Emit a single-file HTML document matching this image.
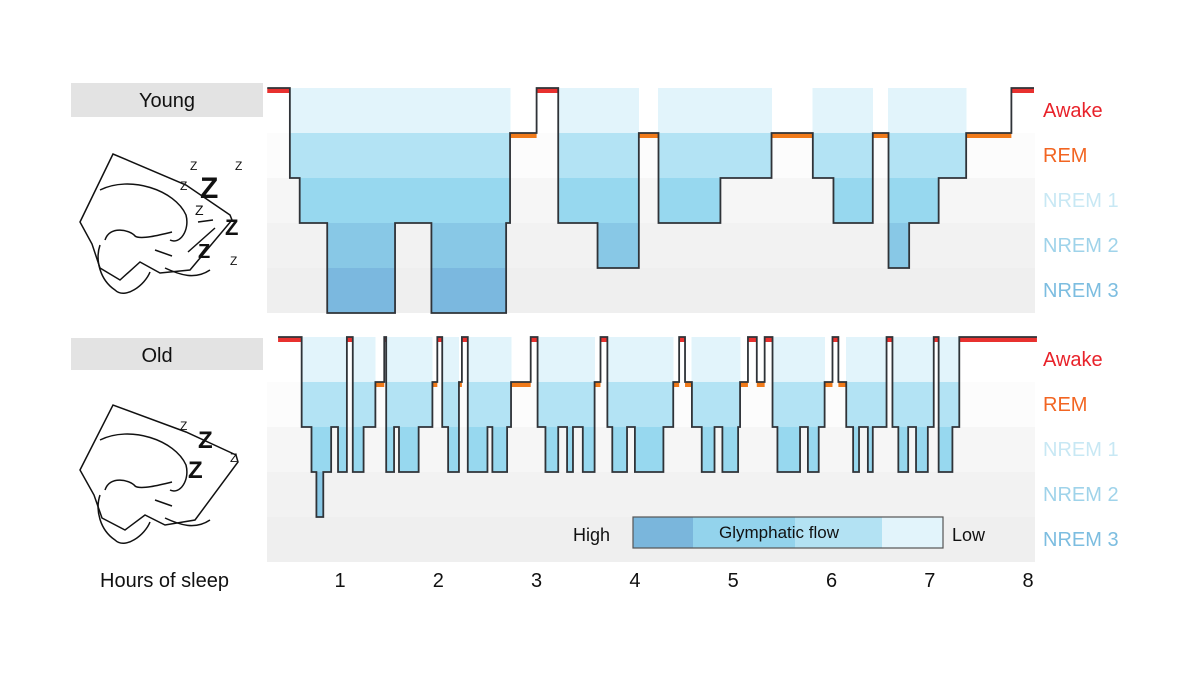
<!DOCTYPE html>
<html><head><meta charset="utf-8"><style>
body{margin:0;background:#fff;}
svg{display:block;font-family:"Liberation Sans",sans-serif;}
</style></head><body>
<svg id="chart" width="1200" height="675" viewBox="0 0 1200 675">
<g id="icons">
 <g fill="none" stroke="#111" stroke-width="1.5">
  <path d="M80,222 L113,154 L186,185 L230,215 L232,220 L190,270 L160,273 L140,262 L120,280 L100,268 L92,244 Z"/>
  <path d="M100,190 C130,175 175,190 186,215 C190,230 180,245 170,240"/>
  <path d="M105,240 C110,225 130,230 135,236 C140,240 160,235 172,232"/>
  <path d="M100,245 C95,260 100,280 115,290 C125,300 145,285 150,272"/>
  <path d="M155,250 L172,256 M165,268 C180,275 195,280 210,270"/>
  <path d="M198,222 L213,220 M188,252 L215,228"/>
 </g>
 <g font-weight="bold" fill="#111">
  <text x="200" y="198" font-size="30">Z</text><text x="225" y="235" font-size="22">Z</text>
  <text x="198" y="258" font-size="20">Z</text><text x="180" y="190" font-size="12" font-weight="normal">Z</text>
  <text x="235" y="170" font-size="12" font-weight="normal">Z</text><text x="195" y="215" font-size="14" font-weight="normal">Z</text>
  <text x="230" y="265" font-size="12" font-weight="normal">Z</text><text x="190" y="170" font-size="12" font-weight="normal">Z</text>
 </g>
 <g fill="none" stroke="#111" stroke-width="1.5">
  <path d="M80,470 L113,405 L186,432 L236,455 L238,462 L195,520 L165,525 L145,515 L125,530 L102,518 L94,495 Z"/>
  <path d="M100,440 C130,425 175,440 186,465 C190,480 180,495 170,490"/>
  <path d="M105,490 C110,475 130,480 135,486 C140,490 160,485 172,482"/>
  <path d="M100,495 C95,510 100,530 115,540 C125,550 145,535 150,522"/>
  <path d="M155,500 L172,506 M165,518 C180,525 195,530 210,520"/>
 </g>
 <g font-weight="bold" fill="#111">
  <text x="198" y="448" font-size="24">Z</text><text x="188" y="478" font-size="24">Z</text>
  <text x="230" y="462" font-size="12" font-weight="normal">Z</text><text x="180" y="430" font-size="12" font-weight="normal">Z</text>
 </g>
</g>
<rect x="71" y="83" width="192" height="34" fill="#e3e3e3"/>
<text x="167" y="107" font-size="20" text-anchor="middle" fill="#111">Young</text>
<rect x="71" y="338" width="192" height="32" fill="#e3e3e3"/>
<text x="157" y="362" font-size="20" text-anchor="middle" fill="#111">Old</text>
<g id="panels"></g>
<text x="100" y="587" font-size="20" fill="#111">Hours of sleep</text>
<g id="ticks"></g>
<g>
 <text x="573" y="541" font-size="18" fill="#111">High</text>
 <rect x="633" y="517" width="60" height="31" fill="#7ab6dc"/>
 <rect x="693" y="517" width="102" height="31" fill="#93d3ec"/>
 <rect x="795" y="517" width="87" height="31" fill="#b3e2f3"/>
 <rect x="882" y="517" width="61" height="31" fill="#e2f4fb"/>
 <rect x="633" y="517" width="310" height="31" fill="none" stroke="#555" stroke-width="1.2"/>
 <text x="779" y="538" font-size="17" text-anchor="middle" fill="#111">Glymphatic flow</text>
 <text x="952" y="541" font-size="18" fill="#111">Low</text>
</g>
</svg>
<script>
const hourTicks = [1,2,3,4,5,6,7,8];
const stageLabels = ["Awake","REM","NREM 1","NREM 2","NREM 3"];
const youngTimes = [0.26,0.49,0.59,0.87,1.56,1.93,2.69,2.73,3.00,3.22,3.62,4.04,4.24,4.87,5.39,5.81,6.02,6.42,6.58,6.79,7.09,7.37,7.83,8.06];
const youngStages = [0,2,3,5,3,5,3,1,0,3,4,1,3,2,1,2,3,1,4,3,2,1,0];
const oldTimes = [0.37,0.61,0.71,0.76,0.83,0.91,0.98,1.07,1.13,1.24,1.36,1.45,1.47,1.55,1.60,1.80,1.94,1.99,2.04,2.10,2.21,2.24,2.30,2.50,2.55,2.70,2.74,2.94,3.01,3.09,3.22,3.31,3.37,3.47,3.59,3.65,3.72,3.77,3.92,4.00,4.29,4.39,4.45,4.51,4.58,4.68,4.81,4.89,5.05,5.07,5.15,5.24,5.32,5.40,5.45,5.68,5.76,5.87,5.93,6.01,6.07,6.15,6.22,6.28,6.37,6.42,6.56,6.62,6.68,6.78,6.86,6.98,7.04,7.09,7.23,7.30,8.09];
const oldStages = [0,2,3,4,3,2,3,0,3,2,1,0,3,2,3,2,1,0,2,3,1,0,3,2,3,2,1,0,2,3,2,3,2,3,1,0,2,3,2,3,2,1,0,1,2,3,2,3,2,1,0,1,0,2,3,2,3,2,1,0,1,2,3,2,3,2,0,2,3,2,3,2,0,3,2,0];

const NS="http://www.w3.org/2000/svg";
const X0=241.7, PXH=98.3, ROW=45, LEFT=267, RIGHT=1035;
function xScale(h){return X0+PXH*h;}
function mk(tag,attrs,parent){const e=document.createElementNS(NS,tag);for(const k in attrs)e.setAttribute(k,attrs[k]);parent.appendChild(e);return e;}
const bgCols=["#ffffff","#fcfcfc","#f6f6f6","#f2f2f2","#efefef"];
const fillCols=["#e2f4fb","#b3e3f4","#97d8ef","#88c8e6","#7bb8df"];
const labCols=["#e8222a","#f26522","#c8e8f4","#9fd3ea","#7cbde0"];
const panels=document.getElementById('panels');

function drawPanel(name,top,times,stages){
  const g=mk('g',{},panels);
  
  
  for(let r=0;r<5;r++){
    const b=mk('rect',{x:LEFT,y:top+r*ROW,width:RIGHT-LEFT,height:ROW,fill:bgCols[r]},g);
    
    
    const t=mk('text',{x:1043,y:top+r*ROW+29,'font-size':20,fill:labCols[r]},g);
    t.textContent=stageLabels[r];
    
    
  }
  const yOf=s=>top+s*ROW;
  for(let i=0;i<stages.length;i++){
    const s=stages[i]; if(s<2) continue;
    const x1=xScale(times[i]), x2=xScale(times[i+1]), y=yOf(s);
    for(let r=0;r<5;r++){
      const ry=top+r*ROW; if(ry>=y) break;
      const h=Math.min(ROW,y-ry);
      const f=mk('rect',{x:x1-0.3,y:ry,width:x2-x1+0.6,height:h,fill:fillCols[r],'shape-rendering':'crispEdges'},g);
      
      
    }
  }
  for(let i=0;i<stages.length;i++){
    const s=stages[i]; if(s>1) continue;
    const x1=xScale(times[i]), x2=xScale(times[i+1]);
    const m=mk('rect',{x:x1,y:yOf(s),width:x2-x1,height:5,fill:s===0?'#e8312f':'#f07a1a'},g);
    
    
  }
  let d='';
  for(let i=0;i<stages.length;i++){
    const x1=xScale(times[i]), x2=xScale(times[i+1]), y=yOf(stages[i]);
    d+=(i===0?'M':'L')+x1+','+y+' L'+x2+','+y+' ';
  }
  const p=mk('path',{d:d,fill:'none',stroke:'#2f3338','stroke-width':1.8},g);
  
  
}
drawPanel('young',88,youngTimes,youngStages);
drawPanel('old',337,oldTimes,oldStages);
const tg=document.getElementById('ticks');
hourTicks.forEach(h=>{
  const t=mk('text',{x:xScale(h),y:587,'font-size':20,'text-anchor':'middle',fill:'#111'},tg);
  t.textContent=h;
  
  
});
</script>
</body></html>
